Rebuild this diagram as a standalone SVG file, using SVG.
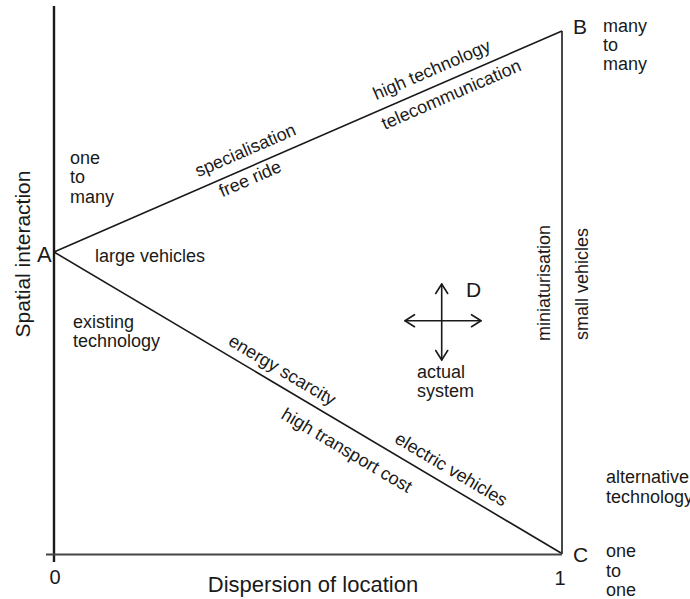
<svg xmlns="http://www.w3.org/2000/svg" width="690" height="599" viewBox="0 0 690 599">
<style>
  text { font-family: "Liberation Sans", Arial, Helvetica, sans-serif; fill: #1a1a1a; }
  .lbl { font-size: 18px; }
  .big { font-size: 21px; }
  .axis { stroke: #1a1a1a; stroke-width: 2.4; fill: none; }
  .haxis { stroke: #444; stroke-width: 2; fill: none; }
  .edge { stroke: #1a1a1a; stroke-width: 1.6; fill: none; }
  .arr { stroke: #1a1a1a; stroke-width: 1.6; fill: none; stroke-linecap: round; stroke-linejoin: round; }
</style>
<rect width="690" height="599" fill="#ffffff"/>

<g id="axes">
  <line class="axis" x1="54" y1="6" x2="54" y2="562"/>
  <line class="haxis" x1="46" y1="554.5" x2="562" y2="554.5"/>
  <text class="big" x="30" y="254" text-anchor="middle" transform="rotate(-90 30 254)">Spatial interaction</text>
  <text class="big" x="313" y="592" text-anchor="middle" style="font-size:22px">Dispersion of location</text>
  <text class="big" x="55" y="584" text-anchor="middle" style="font-size:20px">0</text>
  <text class="big" x="560" y="585" text-anchor="middle" style="font-size:20px">1</text>
</g>

<g id="connectors">
  <line class="edge" x1="54" y1="252" x2="562" y2="31"/>
  <line class="edge" x1="54" y1="252" x2="561" y2="553"/>
  <line class="edge" x1="562" y1="31" x2="562" y2="554"/>
</g>

<g id="node-A">
  <text class="big" x="37" y="262" style="font-size:22px">A</text>
  <text class="lbl" x="70" y="164">one</text>
  <text class="lbl" x="70" y="183">to</text>
  <text class="lbl" x="70" y="203">many</text>
  <text class="lbl" x="95" y="262">large vehicles</text>
  <text class="lbl" x="73" y="328">existing</text>
  <text class="lbl" x="73" y="347">technology</text>
</g>

<g id="node-B">
  <text class="big" x="573" y="34">B</text>
  <text class="lbl" x="603" y="32">many</text>
  <text class="lbl" x="603" y="51">to</text>
  <text class="lbl" x="603" y="70">many</text>
</g>

<g id="node-C">
  <text class="big" x="573" y="562">C</text>
  <text class="lbl" x="606" y="557">one</text>
  <text class="lbl" x="606" y="577">to</text>
  <text class="lbl" x="606" y="596">one</text>
  <text class="lbl" x="606" y="483">alternative</text>
  <text class="lbl" x="606" y="503">technology</text>
</g>

<g id="edge-AB-labels" transform="translate(54,252) rotate(-23.51)">
  <text class="lbl" x="162" y="-11">specialisation</text>
  <text class="lbl" x="176" y="17">free ride</text>
  <text class="lbl" x="356" y="-10.5">high technology</text>
  <text class="lbl" x="352" y="20">telecommunication</text>
</g>

<g id="edge-AC-labels" transform="translate(54,252) rotate(30.70)">
  <text class="lbl" x="196" y="-9">energy scarcity</text>
  <text class="lbl" x="279" y="27">high transport cost</text>
  <text class="lbl" x="389" y="-10">electric vehicles</text>
</g>

<g id="edge-BC-labels">
  <text class="lbl" x="550" y="283" text-anchor="middle" transform="rotate(-90 550 283)">miniaturisation</text>
  <text class="lbl" x="588" y="284" text-anchor="middle" transform="rotate(-90 588 284)">small vehicles</text>
</g>

<g id="node-D">
  <line class="arr" x1="441.7" y1="284" x2="441.7" y2="360"/>
  <line class="arr" x1="405" y1="320.7" x2="481" y2="320.7"/>
  <polyline class="arr" points="435.7,293.5 441.7,284 447.7,293.5"/>
  <polyline class="arr" points="435.7,350.5 441.7,360 447.7,350.5"/>
  <polyline class="arr" points="414.5,314.7 405,320.7 414.5,326.7"/>
  <polyline class="arr" points="471.5,314.7 481,320.7 471.5,326.7"/>
  <text class="big" x="466" y="297">D</text>
  <text class="lbl" x="417" y="378">actual</text>
  <text class="lbl" x="417" y="397">system</text>
</g>
</svg>
